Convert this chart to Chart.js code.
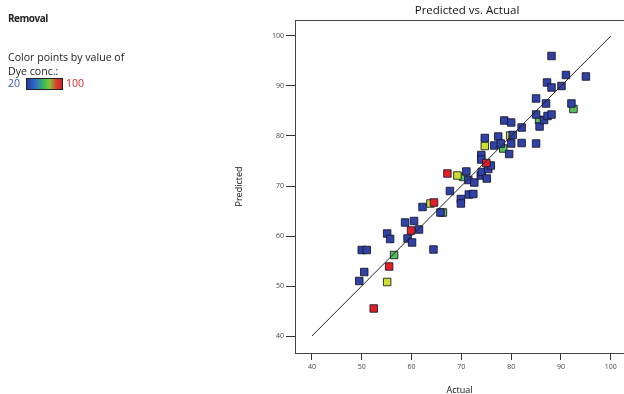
<!DOCTYPE html>
<html>
<head>
<meta charset="utf-8">
<script src="https://cdn.jsdelivr.net/npm/chart.js@4.4.1/dist/chart.umd.min.js"></script>
<style>
  body { margin: 0; background: #fff; font-family: "Open Sans", "Noto Sans", sans-serif; }
  #wrap { position: relative; width: 624px; height: 394px; overflow: hidden; }
  #chart { position: absolute; left: 0; top: 0; }
  .txt { position: absolute; font-size: 10.6px; color: #222; white-space: nowrap; line-height: 12px; }
  #bar { position: absolute; left: 26px; top: 78px; width: 35px; height: 10px;
         border: 1px solid #222;
         background: linear-gradient(to right, #2b3a9c, #2f6fd0 25%, #3cc04a 50%, #8ac23a 65%, #d83a2a 85%, #d11f2a); }
</style>
</head>
<body>
<div id="wrap">
  <canvas id="chart" width="624" height="394"></canvas>
  <div class="txt" style="left:8px;top:12px;font-weight:bold;font-size:10px;letter-spacing:-0.5px;">Removal</div>
  <div class="txt" style="left:8px;top:51px;">Color points by value of</div>
  <div class="txt" style="left:8px;top:65px;">Dye conc.:</div>
  <div class="txt" style="left:8px;top:77px;color:#3a55b0;">20</div>
  <div id="bar"></div>
  <div class="txt" style="left:66px;top:77px;color:#d52a30;">100</div>
  <div class="txt" style="left:367px;width:200px;text-align:center;top:3px;font-size:11.5px;line-height:14px;color:#111;">Predicted vs. Actual</div>
</div>
<script>
"use strict";

const axisTicks = [40, 50, 60, 70, 80, 90, 100];

// Dye conc. low (blue)
const blueActual = [50.0, 51.0, 50.5, 49.5, 55.1, 55.7, 58.7, 60.5, 59.2, 60.1, 61.5, 62.2, 64.4, 65.8,
  67.7, 69.9, 69.9, 71.5, 72.4, 71.0, 71.4, 72.6, 73.9, 74.1, 75.1, 75.4, 75.9, 74.0, 74.0, 79.6,
  74.7, 77.4, 80.3, 76.6, 77.9, 80.0, 82.1, 78.6, 80.0, 82.1, 85.0, 85.7, 85.0, 86.6, 87.3, 88.1,
  85.0, 87.0, 92.1, 87.2, 88.1, 90.1, 91.0, 95.0, 88.1];
const bluePredicted = [57.2, 57.2, 52.8, 51.0, 60.5, 59.4, 62.7, 63.0, 59.5, 58.7, 61.3, 65.8, 57.3, 64.7,
  69.0, 67.4, 66.5, 68.3, 68.4, 72.9, 71.2, 70.7, 72.1, 72.8, 71.5, 73.4, 74.1, 76.2, 75.3, 76.4,
  79.6, 79.9, 80.2, 78.1, 78.5, 78.5, 78.6, 83.1, 82.7, 81.7, 78.5, 81.9, 84.3, 83.2, 84.0, 84.3,
  87.5, 86.5, 86.5, 90.7, 89.7, 90.0, 92.2, 91.9, 96.0];

// middle values (green)
const greenActual = [56.5, 66.3, 70.4, 78.4, 85.6, 92.5];
const greenPredicted = [56.2, 64.7, 71.8, 77.5, 83.2, 85.4];

// yellow-green
const yellowActual = [55.1, 63.8, 69.2, 74.7, 79.8];
const yellowPredicted = [50.8, 66.5, 72.1, 78.0, 80.1];

// high values (red)
const redActual = [52.4, 55.5, 59.9, 64.5, 67.2, 75.0];
const redPredicted = [45.5, 53.9, 61.1, 66.7, 72.5, 74.6];

const lineEnds = [40, 100];

function toPoints(xs, ys) {
  return xs.map((x, i) => ({x: x, y: ys[i]}));
}

function squares(label, xs, ys, color, order) {
  return {
    type: "scatter",
    label: label,
    data: toPoints(xs, ys),
    pointStyle: "rect",
    pointRadius: 5.3,
    pointBorderWidth: 1,
    pointBorderColor: "rgba(20,20,40,0.85)",
    backgroundColor: color,
    order: order,
  };
}

const frameTop = {
  id: "frameTop",
  afterDraw(chart) {
    const {ctx, chartArea} = chart;
    ctx.save();
    ctx.strokeStyle = "#444";
    ctx.lineWidth = 1;
    ctx.beginPath();
    ctx.moveTo(chartArea.left, chartArea.top + 0.5);
    ctx.lineTo(chartArea.right, chartArea.top + 0.5);
    ctx.stroke();
    ctx.restore();
  },
};

const tickFont = {family: "Open Sans", size: 7};

new Chart(document.getElementById("chart"), {
  type: "scatter",
  data: {
    datasets: [
      {
        type: "line",
        label: "Predicted = Actual",
        data: toPoints(lineEnds, lineEnds),
        borderColor: "#222",
        borderWidth: 1,
        pointRadius: 0,
        order: 0,
      },
      squares("high", redActual, redPredicted, "rgb(226,32,40)", 1),
      squares("low", blueActual, bluePredicted, "rgb(48,66,165)", 2),
      squares("mid-high", yellowActual, yellowPredicted, "rgb(204,222,48)", 3),
      squares("mid", greenActual, greenPredicted, "rgb(88,190,92)", 4),
    ],
  },
  options: {
    responsive: false,
    animation: false,
    layout: {autoPadding: false, padding: {left: 230, top: 20, right: 0, bottom: 0}},
    plugins: {
      legend: {display: false},
      tooltip: {enabled: false},
    },
    scales: {
      x: {
        type: "linear",
        min: 36.6,
        max: 102.65,
        afterFit(scale) {
          scale.height = 41;
          scale.paddingLeft = 0;
          scale.paddingRight = 0;
        },
        afterBuildTicks(scale) { scale.ticks = axisTicks.map(v => ({value: v})); },
        grid: {drawOnChartArea: false, drawTicks: true, tickLength: 7, color: "#333"},
        border: {display: true, color: "#444", width: 1},
        ticks: {font: tickFont, color: "#444", padding: 3},
        title: {display: true, text: "Actual", color: "#111",
                font: {family: "Open Sans", size: 9}, padding: {top: 0, bottom: -2}},
      },
      y: {
        type: "linear",
        min: 36.6,
        max: 103.2,
        afterFit(scale) {
          scale.width = 65;
          scale.paddingTop = 0;
          scale.paddingBottom = 0;
        },
        afterBuildTicks(scale) { scale.ticks = axisTicks.map(v => ({value: v})); },
        grid: {drawOnChartArea: false, drawTicks: true, tickLength: 9, color: "#333"},
        border: {display: true, color: "#444", width: 1},
        ticks: {font: tickFont, color: "#444", padding: 2},
        title: {display: true, text: "Predicted", color: "#111",
                font: {family: "Open Sans", size: 9}, padding: {top: 4, bottom: 0}},
      },
    },
  },
  plugins: [frameTop],
});
</script>
</body>
</html>
